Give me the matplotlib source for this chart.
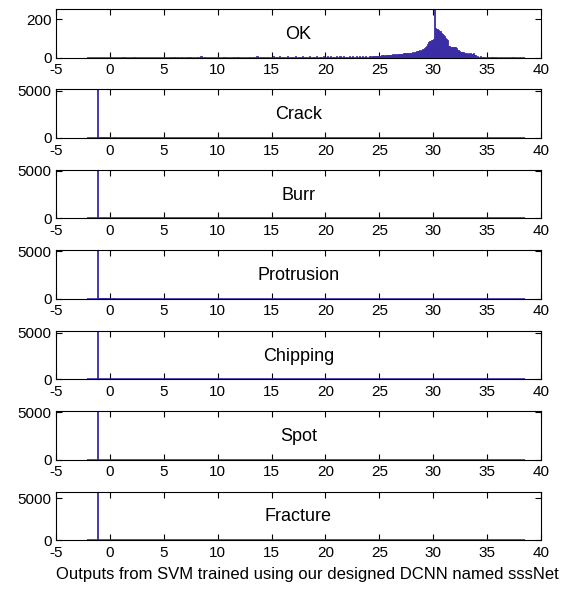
import numpy as np
import matplotlib
matplotlib.use("Agg")
import matplotlib.pyplot as plt

plt.rcParams['font.family'] = ['Liberation Sans', 'DejaVu Sans']
plt.rcParams['axes.unicode_minus'] = False

# ---------------- data ----------------
panel_names = ["OK", "Crack", "Burr", "Protrusion", "Chipping", "Spot", "Fracture"]
bin_width = 0.1
hist_lo, hist_hi = -2.1, 38.5

# OK: sparse low-count bins (centres, counts)
ok_sparse_x = [0.05, 1.15, 1.35, 2.25, 5.65, 5.95, 6.25, 6.65, 7.25, 7.45, 8.15, 8.45, 8.75,
               10.55, 10.75, 11.45, 11.75, 11.95, 12.95, 13.35, 13.65, 13.95, 14.25, 14.65,
               15.15, 15.45, 15.75, 16.05, 16.45, 16.95, 17.25, 17.55, 17.85, 18.15, 18.55,
               18.85, 19.15, 19.55, 19.85, 20.15, 20.45, 20.75, 21.05, 21.35, 21.65, 21.95,
               22.25, 22.55, 22.85, 23.15, 23.45, 23.75,
               34.15, 34.35, 34.65, 35.05, 35.45, 35.75, 37.35]
ok_sparse_count = [4, 5, 4, 3, 3, 4, 3, 4, 5, 3, 4, 6, 3,
                   4, 3, 5, 4, 3, 4, 5, 6, 4, 5, 3,
                   6, 5, 7, 4, 6, 5, 6, 4, 7, 5, 6,
                   4, 7, 5, 6, 6, 7, 5, 8, 6, 7, 5,
                   8, 6, 7, 6, 8, 7,
                   6, 8, 4, 3, 4, 2, 3]
# OK: dense region, consecutive bins starting at ok_dense_start
ok_dense_start = 24.0
ok_dense_count = [6, 8, 5, 7, 9, 6, 8, 10, 7, 9,
                  10, 8, 11, 12, 9, 13, 11, 12, 14, 12,
                  15, 13, 16, 14, 17, 15, 18, 16, 19, 17,
                  20, 18, 22, 21, 24, 22, 25, 23, 26, 24,
                  28, 26, 30, 29, 32, 35, 33, 37, 36, 40,
                  46, 50, 55, 62, 70, 82, 88, 86, 90, 92,
                  98, 254, 155, 150, 142, 140, 138, 130, 124, 118,
                  112, 104, 98, 92, 60, 58, 56, 57, 55, 54,
                  54, 50, 40, 38, 36, 30, 29, 28, 27, 26,
                  24, 20, 22, 18, 25, 20, 16, 22, 12, 14]

# defect classes: large spike of rejected outputs plus a few small bins
spike_x = -1.15
spike_count = {"Crack": 5150, "Burr": 5070, "Protrusion": 5120,
               "Chipping": 5200, "Spot": 5130, "Fracture": 5770}
small_x = {
    "Crack": [-1.05, -0.95, -0.85, -0.75, -0.65, -0.55, -0.45, -0.35, -0.25, -0.15, -0.05,
              0.25, 0.45, 0.75, 1.05, 1.35, 1.65, 5.95, 6.15],
    "Protrusion": [-1.05, -0.95, -0.85, -0.75, -0.65, -0.55, -0.45, -0.35, -0.25, -0.15, -0.05,
                   0.35, 0.65, 1.05, 1.45, 1.85],
}
small_count = {
    "Crack": [120, 110, 100, 90, 95, 85, 90, 80, 85, 75, 70,
              40, 50, 40, 45, 35, 40, 30, 35],
    "Protrusion": [60, 55, 50, 45, 50, 40, 45, 40, 35, 40, 35,
                   40, 30, 35, 30, 25],
}

xticks = [-5, 0, 5, 10, 15, 20, 25, 30, 35, 40]
yticks = {"OK": [0, 200]}
default_yticks = [0, 5000]
xlabel = "Outputs from SVM trained using our designed DCNN named sssNet"

# ---------------- figure ----------------
color = '#3a2ca6'
W, H = 578, 596
fig = plt.figure(figsize=(W / 100, H / 100), dpi=100)

left_px, right_px = 56, 541
top0_px, step_px, height_px = 9, 80.45, 48.5

for i, name in enumerate(panel_names):
    top = top0_px + step_px * i
    ax = fig.add_axes([left_px / W, 1 - (top + height_px) / H,
                       (right_px - left_px) / W, height_px / H])
    if name == "OK":
        xs = list(ok_sparse_x) + [ok_dense_start + bin_width * (k + 0.5) for k in range(len(ok_dense_count))]
        cs = list(ok_sparse_count) + list(ok_dense_count)
        ymax = max(cs)
    else:
        xs = [spike_x] + small_x.get(name, [])
        cs = [spike_count[name]] + small_count.get(name, [])
        ymax = spike_count[name]
    ax.bar(xs, cs, width=bin_width, color=color, edgecolor=color, linewidth=0.6, zorder=2)
    ax.plot([hist_lo, hist_hi], [0, 0], color=color, lw=1.2, zorder=3, solid_capstyle='butt')
    ax.set_xlim(-5, 40)
    ax.set_ylim(0, ymax)
    ax.set_xticks(xticks)
    ax.set_yticks(yticks.get(name, default_yticks))
    ax.tick_params(direction='in', top=True, right=True, length=4.5, width=0.8,
                   labelsize=11, pad=3, colors='black')
    ax.tick_params(axis='x', pad=4)
    for s in ax.spines.values():
        s.set_linewidth(0.8)
    ax.text(0.5, 0.48, name, transform=ax.transAxes, ha='center', va='center',
            fontsize=13)

fig.text(307 / W, 1 - 575 / H, xlabel, ha='center', va='center', fontsize=12)

fig.savefig("out.png", dpi=100)
